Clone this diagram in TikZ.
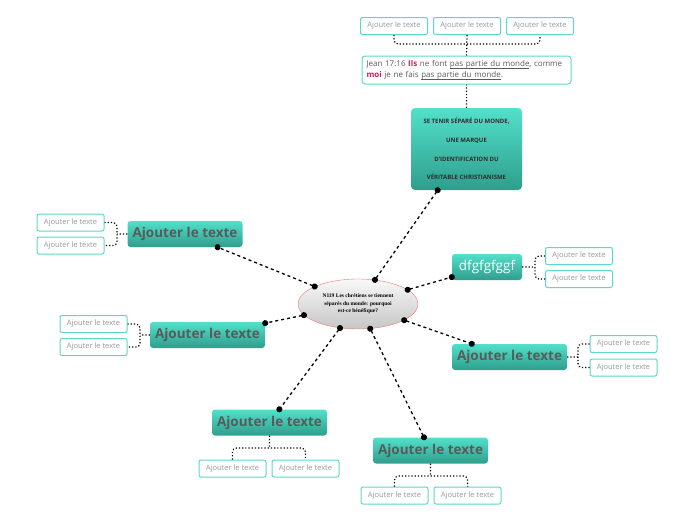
\documentclass[tikz,border=0pt]{standalone}
\usepackage{fontspec}
\setmainfont{Open Sans}
\newfontfamily\titlefont{Liberation Serif}
\usetikzlibrary{arrows.meta,shapes.geometric}
\definecolor{tealtop}{RGB}{82,224,202}
\definecolor{tealbot}{RGB}{46,158,140}
\definecolor{subline}{RGB}{94,216,200}
\definecolor{ink}{RGB}{90,90,90}
\definecolor{pinkred}{RGB}{224,24,94}
\definecolor{rim}{RGB}{232,122,106}
\newcommand{\undl}[1]{\leavevmode\setbox0=\hbox{#1}\rlap{\vrule height -1.3pt depth 1.8pt width \wd0}\box0}

\begin{document}
\begin{tikzpicture}[x=1pt,y=-1pt,
	topic/.style={rectangle,rounded corners=3pt,top color=tealtop,bottom color=tealbot,minimum width=115pt,minimum height=26pt,inner sep=0pt,text=ink,font=\fontsize{13.5}{14}\selectfont\bfseries},
	sub/.style={rectangle,rounded corners=2pt,draw=subline,line width=1pt,fill=white,minimum width=67pt,minimum height=17pt,inner sep=0pt,text=gray!80,font=\fontsize{7.5}{8}\selectfont},
	link/.style={line width=1.3pt,dash pattern=on 3pt off 3pt,{Circle[length=6pt]}-{Circle[length=6pt]},shorten <=-3pt,shorten >=-3pt},
	bracket/.style={line width=1.2pt,dotted,rounded corners=4pt}]

\useasboundingbox (0,0) rectangle (696,520);

\node[ellipse,draw=rim,top color=gray!5,bottom color=gray!45,minimum width=120pt,minimum height=50pt,inner sep=0pt,align=center,font=\titlefont\fontsize{5.5}{7.5}\selectfont\bfseries]   (main) at (358,304)   {N119 Les chrétiens se tiennent\\séparés du monde: pourquoi\\est-ce bénéfique?};

\node[rectangle,rounded corners=4pt,top color=tealtop,bottom color=tealbot,minimum width=111pt,minimum height=82pt,align=center,text=ink!50!black,font=\fontsize{6}{18.7}\selectfont\bfseries]   (top) at (466.5,149)   {SE TENIR SÉPARÉ DU MONDE,\\UNE MARQUE\\D'IDENTIFICATION DU\\VÉRITABLE CHRISTIANISME};
\node[rectangle,rounded corners=3pt,draw=subline,line width=1pt,fill=white,minimum width=209pt,minimum height=28pt,text width=200pt,inner sep=4pt,align=left,text=ink,font=\fontsize{8}{11}\selectfont]   (jean) at (466.5,70)   {Jean 17:16 \textbf{\color{pinkred}Ils} ne font \undl{pas partie du monde}, comme\\\textbf{\color{pinkred}moi} je ne fais \undl{pas partie du monde}.};
\node[sub]   (t1) at (394,26)   {Ajouter le texte};
\node[sub]   (t2) at (467,26)   {Ajouter le texte};
\node[sub]   (t3) at (540,26)   {Ajouter le texte};

\node[topic]   (a) at (185,234)   {Ajouter le texte};
\node[sub]   (a1) at (70.5,222.5)   {Ajouter le texte};
\node[sub]   (a2) at (70.5,245.5)   {Ajouter le texte};

\node[topic,minimum width=70pt,text=white,font=\fontsize{13.5}{14}\selectfont]   (d) at (487,267)   {dfgfgfggf};
\node[sub]   (d1) at (579,256)   {Ajouter le texte};
\node[sub]   (d2) at (579,279)   {Ajouter le texte};

\node[topic]   (c) at (207.5,335)   {Ajouter le texte};
\node[sub]   (c1) at (93.5,324)   {Ajouter le texte};
\node[sub]   (c2) at (93.5,347)   {Ajouter le texte};

\node[topic]   (e) at (509.5,357)   {Ajouter le texte};
\node[sub]   (e1) at (623.5,344)   {Ajouter le texte};
\node[sub]   (e2) at (623.5,367.5)   {Ajouter le texte};

\node[topic]   (b) at (269.5,422.5)   {Ajouter le texte};
\node[sub]   (b1) at (232.5,468.5)   {Ajouter le texte};
\node[sub]   (b2) at (305.5,468.5)   {Ajouter le texte};

\node[topic]   (f) at (430.5,450.5)   {Ajouter le texte};
\node[sub]   (f1) at (394.5,495.5)   {Ajouter le texte};
\node[sub]   (f2) at (467.5,495.5)   {Ajouter le texte};

\coordinate (tj) at (467,44);
\coordinate (aj) at (117,234);
\coordinate (dj) at (535,267);
\coordinate (cj) at (140,335);
\coordinate (ej) at (578,357);
\coordinate (bj) at (269.5,448);
\coordinate (fj) at (430.5,476);

	\draw[bracket] (top.north) -- (jean.south)
				(jean.north) -- (t2.south)
				(t1.south) |- (tj) -| (t3.south);
	\draw[bracket] (a.west) -- (aj)	(a1.east) -| (aj) |- (a2.east);
	\draw[bracket] (d.east) -- (dj)	(d1.west) -| (dj) |- (d2.west);
	\draw[bracket] (c.west) -- (cj)	(c1.east) -| (cj) |- (c2.east);
	\draw[bracket] (e.east) -- (ej)	(e1.west) -| (ej) |- (e2.west);
	\draw[bracket] (b.south) -- (bj)	(b1.north) |- (bj) -| (b2.north);
	\draw[bracket] (f.south) -- (fj)	(f1.north) |- (fj) -| (f2.north);

	\path[link] (main)  edge (top)
					edge (a)
					edge (d)
					edge (c)
					edge (e)
					edge (b)
					edge (f);

\end{tikzpicture}
\end{document}
